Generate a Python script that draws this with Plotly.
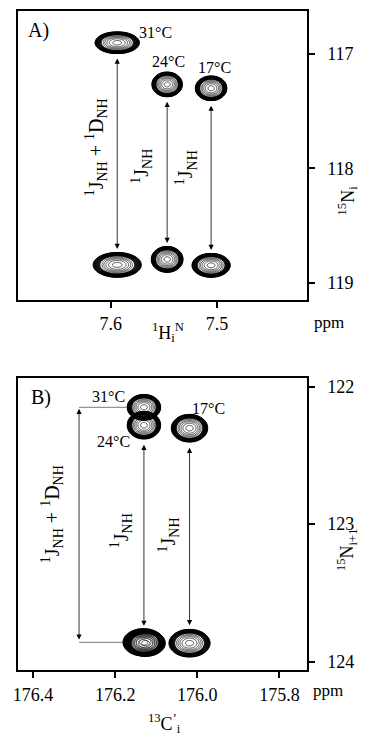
import numpy as np
import plotly.graph_objects as go

# ---- Panel A: 1H(N) / 15N(i) cross peaks (ppm) ----
a_temps = ["31", "24", "17"]
a_h = [7.594, 7.547, 7.5056]            # 1H^N shift
a_n_up = [116.90, 117.265, 117.299]     # upper component, 15N
a_n_dn = [118.845, 118.797, 118.849]    # lower component, 15N
a_wx_up = [0.0209, 0.0144, 0.0149]      # half widths (ppm)
a_wy_up = [0.096, 0.109, 0.109]
a_wx_dn = [0.0227, 0.0150, 0.0180]
a_wy_dn = [0.109, 0.114, 0.105]

# ---- Panel B: 13C'(i) / 15N(i+1) cross peaks (ppm) ----
b_temps = ["31", "24", "17"]
b_c_up = [176.130, 176.130, 176.019]
b_c_dn = [176.131, 176.126, 176.019]
b_n_up = [122.150, 122.280, 122.302]
b_n_dn = [123.860, 123.866, 123.866]
b_wx_up = [0.0408, 0.0408, 0.0444]
b_wy_up = [0.094, 0.101, 0.101]
b_wx_dn = [0.050, 0.048, 0.050]
b_wy_dn = [0.100, 0.096, 0.101]

a_xticks = [7.6, 7.5]
a_yticks = [117, 118, 119]
b_xticks = [176.4, 176.2, 176.0, 175.8]
b_yticks = [122, 123, 124]

W, H = 365, 737
FONT = "Liberation Serif"


def px(x):
    return x / W


def py(y):
    return 1 - y / H


def peak(xc, yc, hx, hy, xa, ya):
    """Contour set of one cross peak: dense outer band plus sparse inner rings."""
    gx = np.linspace(xc - hx * 1.05, xc + hx * 1.05, 161)
    gy = np.linspace(yc - hy * 1.05, yc + hy * 1.05, 161)
    X, Y = np.meshgrid(gx, gy)
    Z = -(((X - xc) / hx) ** 2 + ((Y - yc) / hy) ** 2)
    common = dict(x=gx, y=gy, z=Z, xaxis=xa, yaxis=ya,
                  colorscale=[[0, "black"], [1, "black"]],
                  showscale=False, hoverinfo="skip")
    band = go.Contour(contours=dict(coloring="lines", start=-1.0, end=-0.5, size=0.03),
                      line=dict(width=1.0), **common)
    inner = go.Contour(contours=dict(coloring="lines", start=-0.4, end=-0.03, size=0.09),
                       line=dict(width=0.7), **common)
    return [band, inner]


fig = go.Figure()

for i in range(3):
    fig.add_traces(peak(a_h[i], a_n_up[i], a_wx_up[i], a_wy_up[i], "x", "y"))
    fig.add_traces(peak(a_h[i], a_n_dn[i], a_wx_dn[i], a_wy_dn[i], "x", "y"))
    fig.add_traces(peak(b_c_up[i], b_n_up[i], b_wx_up[i], b_wy_up[i], "x2", "y2"))
    fig.add_traces(peak(b_c_dn[i], b_n_dn[i], b_wx_dn[i], b_wy_dn[i], "x2", "y2"))

ann = []
GAP_A = 0.03
GAP_B = 0.03


def darrow(x, y0, y1, xr, yr):
    return dict(x=x, y=y1, ax=x, ay=y0, xref=xr, yref=yr, axref=xr, ayref=yr,
                text="", showarrow=True, arrowside="end+start",
                arrowhead=2, startarrowhead=2, arrowsize=1.3, startarrowsize=1.3,
                arrowwidth=0.8, arrowcolor="black", standoff=0, startstandoff=0)


# Panel A arrows between doublet components
for i in range(3):
    ann.append(darrow(a_h[i], a_n_up[i] + a_wy_up[i] + GAP_A,
                      a_n_dn[i] - a_wy_dn[i] - GAP_A, "x", "y"))

# Panel B: 31 C arrow is offset to the left with connector lines
x_conn = 176.288
fig.add_trace(go.Scatter(
    x=[b_c_up[0] + b_wx_up[0], x_conn], y=[b_n_up[0], b_n_up[0]],
    mode="lines", line=dict(color="#444", width=0.7),
    xaxis="x2", yaxis="y2", showlegend=False, hoverinfo="skip"))
fig.add_trace(go.Scatter(
    x=[x_conn, b_c_dn[0] + b_wx_dn[0]], y=[b_n_dn[0], b_n_dn[0]],
    mode="lines", line=dict(color="#444", width=0.7),
    xaxis="x2", yaxis="y2", showlegend=False, hoverinfo="skip"))
ann.append(darrow(x_conn, b_n_up[0], b_n_dn[0] - 0.02, "x2", "y2"))
for i in (1, 2):
    ann.append(darrow(b_c_up[i], b_n_up[i] + b_wy_up[i] + GAP_B,
                      b_n_dn[i] - b_wy_dn[i] - GAP_B, "x2", "y2"))

TF = dict(family=FONT, size=16, color="black")
LF = dict(family=FONT, size=20, color="black")
CENTER = dict(xanchor="center", yanchor="middle", showarrow=False)

# Temperature labels
a_lab_pos = [(7.5576, 116.814), (7.5455, 117.067), (7.5027, 117.12)]
b_lab_pos = [(176.216, 122.07), (176.204, 122.40), (175.974, 122.157)]
for t, (x, y) in zip(a_temps, a_lab_pos):
    ann.append(dict(x=x, y=y, xref="x", yref="y", text=t + "°C", font=TF, **CENTER))
for t, (x, y) in zip(b_temps, b_lab_pos):
    ann.append(dict(x=x, y=y, xref="x2", yref="y2", text=t + "°C", font=TF, **CENTER))

JD = "<sup>1</sup>J<sub>NH</sub> + <sup>1</sup>D<sub>NH</sub>"
J = "<sup>1</sup>J<sub>NH</sub>"
rot = [
    (7.6142, 117.818, JD, "x", "y"),
    (7.5714, 117.984, J, "x", "y"),
    (7.5296, 117.993, J, "x", "y"),
    (176.353, 122.925, JD, "x2", "y2"),
    (176.185, 123.049, J, "x2", "y2"),
    (176.070, 123.078, J, "x2", "y2"),
]
for x, y, t, xr, yr in rot:
    ann.append(dict(x=x, y=y, xref=xr, yref=yr, text=t, textangle=-90,
                    font=LF, **CENTER))

# Panel letters and axis titles
paper_text = [
    (34, 30, "A)", 20, 0),
    (37, 398, "B)", 20, 0),
    (328, 323, "ppm", 17, 0),
    (327, 692, "ppm", 17, 0),
    (165, 333, "<sup>1</sup>H<sub>i</sub><sup>N</sup>", 18, 0),
    (162, 725, "<sup>13</sup>C<sup>’</sup><sub>i</sub>", 18, 0),
    (347, 200, "<sup>15</sup>N<sub>i</sub>", 18, -90),
    (347, 551, "<sup>15</sup>N<sub>i+1</sub>", 18, -90),
]
for x, y, t, s, a in paper_text:
    ann.append(dict(x=px(x), y=py(y), xref="paper", yref="paper", text=t,
                    textangle=a, font=dict(family=FONT, size=s, color="black"),
                    **CENTER))

fig.update_layout(annotations=ann)

axis_common = dict(showgrid=False, zeroline=False, showline=True, mirror=True,
                   linecolor="black", linewidth=1.5, ticks="outside",
                   ticklen=6, tickwidth=1.5, tickcolor="black",
                   tickfont=dict(family=FONT, size=18, color="black"))

fig.update_layout(
    width=W, height=H, margin=dict(l=0, r=0, t=0, b=0),
    paper_bgcolor="white", plot_bgcolor="white", showlegend=False,
    xaxis=dict(domain=[px(13), px(306)], range=[7.6876, 7.4155],
               tickvals=a_xticks, ticktext=[f"{v:.1f}" for v in a_xticks],
               anchor="y", ticklabelstandoff=0, **axis_common),
    yaxis=dict(domain=[py(300.5), py(10)], range=[119.155, 116.622],
               tickvals=a_yticks, ticktext=[str(v) for v in a_yticks],
               side="right", anchor="x", ticklabelstandoff=9, **axis_common),
    xaxis2=dict(domain=[px(13), px(306)], range=[176.437, 175.7335],
                tickvals=b_xticks, ticktext=[f"{v:.1f}" for v in b_xticks],
                anchor="y2", ticklabelstandoff=1, **axis_common),
    yaxis2=dict(domain=[py(672), py(379)], range=[124.063, 121.940],
                tickvals=b_yticks, ticktext=[str(v) for v in b_yticks],
                side="right", anchor="x2", ticklabelstandoff=9, **axis_common),
)

fig.write_html("out.html")
